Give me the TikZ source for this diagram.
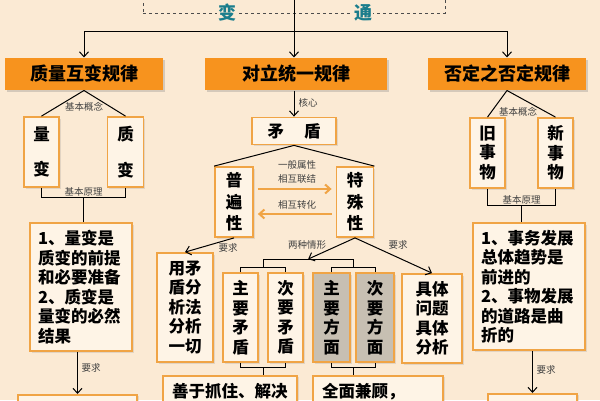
\documentclass[tikz,border=0pt]{standalone}
\usepackage{fontspec}
\setmainfont{Noto Sans CJK SC}
\usetikzlibrary{arrows.meta, calc, positioning, shadows}

\definecolor{paper}{HTML}{FBEAD4}
\definecolor{lawfill}{HTML}{F7931E}
\definecolor{boxline}{HTML}{F0A445}
\definecolor{boxfill}{HTML}{FEF4E6}
\definecolor{grayfill}{HTML}{C7BFB2}
\definecolor{tealtext}{HTML}{1A7D8C}

\begin{document}
\begin{tikzpicture}[
            x=1pt, y=-1pt, % pixel units, y downwards
            line width=1pt,
            >={Straight Barb[length=5pt, width=9pt]},
            law/.style={rectangle, fill=lawfill, minimum height=32pt, font=\bfseries\fontsize{18pt}{20pt}\selectfont, drop shadow={opacity=0.3, shadow xshift=1.5pt, shadow yshift=-1.5pt}},
            card/.style={rectangle, draw=boxline, line width=1.8pt, fill=boxfill, inner sep=0pt, align=center, font=\bfseries\fontsize{16.5pt}{19.5pt}\selectfont, drop shadow={opacity=0.2, shadow xshift=1.5pt, shadow yshift=-1.5pt}},
            shade/.style={card, fill=grayfill},
            rule/.style={card, align=left, inner xsep=8pt},
            tag/.style={font=\fontsize{9.5pt}{10pt}\selectfont, text=black!75, inner sep=1pt},
            word/.style={font=\bfseries\fontsize{18pt}{20pt}\selectfont, text=tealtext, fill=paper, inner sep=1pt},
            flow/.style={->, draw=boxline, line width=2pt}
        ]

        \useasboundingbox (0,0) rectangle (600,400);
        \fill[paper] (0,0) rectangle (600,400);

        % Top frame
        \node[draw=black!70, dashed, minimum width=302pt, minimum height=30pt] (frame) at (294,-2) {};
        \node[word] (bian) at (227,13) {变};
        \node[word] (tong) at (363,13) {通};

        % Law boxes
        \node[law, minimum width=158pt] (law-1) at (84,74) {质量互变规律};
        \node[law, minimum width=182pt] (law-2) at (296,74) {对立统一规律};
        \node[law, minimum width=158pt] (law-3) at (507,74) {否定之否定规律};

        % Left column
        \node[card, minimum width=35pt, minimum height=70pt] (liang) at (41.5,152) {量\\[16pt]变};
        \node[card, minimum width=36pt, minimum height=70pt] (zhi) at (125.5,152) {质\\[16pt]变};
        \node[rule, text width=86pt, minimum height=128pt] (rule-1) at (81,287) {1、量变是\\质变的前提\\和必要准备\\2、质变是\\量变的必然\\结果};
        \node[card, anchor=north, minimum width=119pt, minimum height=30pt] (demand-1) at (77.5,394) {};

        % Middle column
        \node[card, minimum width=84pt, minimum height=27pt] (mao) at (294,131) {矛\hspace{20pt}盾};
        \node[card, minimum width=38pt, minimum height=70pt] (pu) at (234,202) {普\\[2pt]遍\\[2pt]性};
        \node[card, minimum width=37pt, minimum height=70pt] (te) at (355,202) {特\\[2pt]殊\\[2pt]性};
        \node[card, minimum width=56pt, minimum height=109pt] (fen) at (185,307.5) {用矛\\盾分\\析法\\分析\\一切};
        \node[card, minimum width=35pt, minimum height=89pt] (zhu-1) at (240.5,317.5) {主\\要\\矛\\盾};
        \node[card, minimum width=35pt, minimum height=89pt] (ci-1) at (285.5,317.5) {次\\要\\矛\\盾};
        \node[shade, minimum width=37pt, minimum height=89pt] (zhu-2) at (331.5,317.5) {主\\要\\方\\面};
        \node[shade, minimum width=38pt, minimum height=89pt] (ci-2) at (375,317.5) {次\\要\\方\\面};
        \node[card, minimum width=60pt, minimum height=89pt] (ju) at (432,318.5) {具体\\问题\\具体\\分析};
        \node[rule, anchor=north, text width=116pt, inner xsep=9pt, inner ysep=7pt, text depth=30pt] (grasp) at (230,375) {善于抓住、解决};
        \node[rule, anchor=north, text width=112pt, inner xsep=9pt, inner ysep=7pt, text depth=30pt] (whole) at (378,375) {全面兼顾，};

        % Right column
        \node[card, minimum width=35pt, minimum height=70pt] (jiu) at (487.5,153) {旧\\事\\物};
        \node[card, minimum width=35pt, minimum height=70pt] (xin) at (555.5,153) {新\\事\\物};
        \node[rule, text width=96pt, minimum height=127pt] (rule-3) at (529,286.5) {1、事务发展\\总体趋势是\\前进的\\2、事物发展\\的道路是曲\\折的};
        \node[card, anchor=north, minimum width=89pt, minimum height=30pt] (demand-3) at (532.5,393) {};

        % Top connections
        \coordinate (top) at (294,-5);
        \coordinate (split) at (294,31);
        \draw[->] (top) -- (law-2.north -| top);
        \draw[->] (split) -| (law-1);
        \draw[->] (split) -| (law-3);

        % Left connections
        \foreach \j in {liang,zhi}
        \draw (law-1.south) -- (\j.north);
        \node[tag] (concept-1) at (84,107) {基本概念};
        \draw (liang.south) -- ++(0,10) -| (zhi.south);
        \coordinate (base-1) at ($(liang.south)!0.5!(zhi.south)+(0,10)$);
        \node[tag, above=0pt of base-1] (basis-1) {基本原理};
        \draw (base-1) -- (base-1 |- rule-1.north);
        \draw[->] (demand-1.north |- rule-1.south) -- (demand-1.north);
        \node[tag] (ask-1) at (91,368) {要求};

        % Middle connections
        \draw[->] (law-2.south -| mao) -- (mao.north);
        \node[tag] (core) at (308,103) {核心};
        \draw (mao.south) -- (pu.north west);
        \draw (mao.south) -- (te.north east);
        \node[tag] (attr) at (297,165) {一般属性};
        \node[tag] (link) at (297,179) {相互联结};
        \node[tag] (turn) at (297,205) {相互转化};
        \draw[flow] ($(pu.east)+(4,-13)$) -- ($(te.west)+(-4,-13)$);
        \draw[flow] ($(te.west)+(-4,12)$) -- ($(pu.east)+(4,12)$);
        \draw[->] (pu.south) -- (fen.north);
        \node[tag] (ask-2) at (228,248) {要求};

        % Brackets over the pairs
        \draw (zhu-1.north) -- ++(0,-5) -| (ci-1.north);
        \draw (zhu-2.north) -- ++(0,-5) -| (ci-2.north);
        \coordinate (pair-1) at ($(zhu-1.north)!0.5!(ci-1.north)+(0,-5)$);
        \coordinate (pair-2) at ($(zhu-2.north)!0.5!(ci-2.north)+(0,-5)$);
        \draw (pair-1) -- ++(0,-8) -| (pair-2);
        \coordinate (two) at ($(pair-1)!0.5!(pair-2)+(0,-8)$);
        \draw[->] (te.south) -- (two);
        \node[tag] (cases) at (307,245) {两种情形};
        \draw[->] (te.south) -- (ju.north);
        \node[tag] (ask-3) at (398,245) {要求};

        % Brackets under the pairs
        \draw (zhu-1.south) -- ++(0,5) -| (ci-1.south);
        \draw (zhu-2.south) -- ++(0,5) -| (ci-2.south);
        \coordinate (hold-1) at ($(zhu-1.south)!0.5!(ci-1.south)+(0,5)$);
        \coordinate (hold-2) at ($(zhu-2.south)!0.5!(ci-2.south)+(0,5)$);
        \draw (hold-1) -- (hold-1 |- grasp.north);
        \draw (hold-2) -- (hold-2 |- whole.north);

        % Right connections
        \foreach \j in {jiu,xin}
        \draw (law-3.south) -- (\j.north);
        \node[tag] (concept-3) at (518,112) {基本概念};
        \draw (jiu.south) -- ++(0,17) -| (xin.south);
        \coordinate (base-3) at ($(jiu.south)!0.5!(xin.south)+(0,17)$);
        \node[tag, above=0pt of base-3] (basis-3) {基本原理};
        \draw (base-3) -- (base-3 |- rule-3.north);
        \draw[->] (demand-3.north |- rule-3.south) -- (demand-3.north);
        \node[tag] (ask-4) at (546,370) {要求};

    \end{tikzpicture}
\end{document}
